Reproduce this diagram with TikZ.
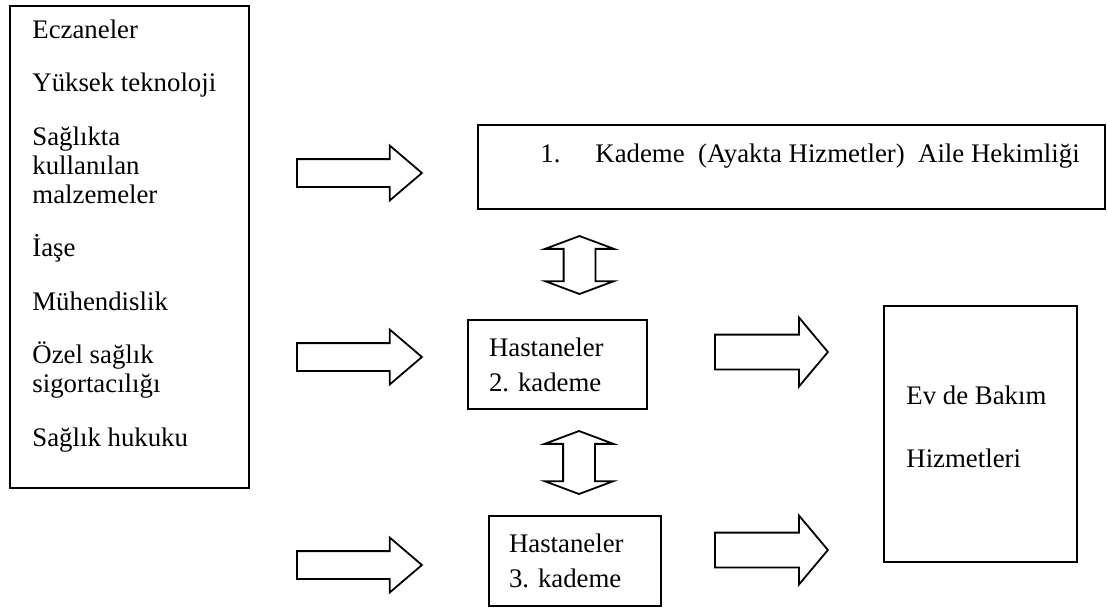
\documentclass[tikz,border=0pt]{standalone}
\usepackage{fontspec}
\setmainfont{Liberation Serif}
\frenchspacing
\usetikzlibrary{shapes.arrows}
\tikzset{
  box/.style={draw=black,line width=0.9pt,fill=white,inner sep=0pt},
  txt/.style={inner sep=0pt,align=left,font=\fontsize{13.4}{14.5}\selectfont},
  hospbox/.style={box,align=left,font=\fontsize{13.4}{17.5}\selectfont},
  blockarrow/.style={draw=black,line width=0.9pt,fill=white,inner xsep=0pt,minimum width=0pt},
  inarrow/.style={blockarrow,single arrow,anchor=tail,inner ysep=6.5pt,single arrow head extend=6.75pt,single arrow tip angle=81,minimum height=62.5pt},
  outarrow/.style={blockarrow,single arrow,anchor=tail,inner ysep=8.25pt,single arrow head extend=8.5pt,single arrow tip angle=100,minimum height=56.5pt},
  linkarrow/.style={blockarrow,double arrow,rotate=90,inner ysep=7.5pt,double arrow head extend=9.25pt,double arrow tip angle=139}
}
\begin{document}
\begin{tikzpicture}[x=0.5pt,y=-0.5pt]
  \useasboundingbox (0,0) rectangle (1107,607);
  % sector list
  \node[box,minimum width=119.5pt,minimum height=241pt] (sources) at (129.5,247) {};
  \node[txt,anchor=north west] (sourcelist) at (32,19) {Eczaneler\\[12.25pt]Yüksek teknoloji\\[12.25pt]Sağlıkta\\kullanılan\\malzemeler\\[12.25pt]İaşe\\[12.25pt]Mühendislik\\[12.25pt]Özel sağlık\\sigortacılığı\\[12.25pt]Sağlık hukuku};
  % levels
  \node[box,minimum width=313.5pt,minimum height=42pt] (level1) at (791.5,167) {};
  \node[txt,anchor=base west] (level1text) at (540,162) {\makebox[27.5pt][l]{1.}Kademe\ \ (Ayakta Hizmetler)\ \ Aile Hekimliği};
  \node[hospbox,minimum width=89.5pt,minimum height=44.5pt,inner xsep=10.5pt,text width=68.5pt] (level2) at (557.5,364.5) {Hastaneler\\2. kademe};
  \node[hospbox,minimum width=86pt,minimum height=45pt,inner xsep=10pt,text width=66pt] (level3) at (575,561) {Hastaneler\\3. kademe};
  \node[box,minimum width=96.5pt,minimum height=128pt] (homecare) at (980.5,434) {};
  \node[txt,anchor=north west,font=\fontsize{13.4}{31.5}\selectfont] (homecaretext) at (906,385) {Ev de Bakım\\Hizmetleri};
  % block arrows
  \node[inarrow] (in1) at (296,173) {};
  \node[inarrow] (in2) at (296,357) {};
  \node[inarrow] (in3) at (296,565) {};
  \node[outarrow] (out2) at (714,352) {};
  \node[outarrow] (out3) at (714,550) {};
  \node[linkarrow,minimum height=29pt] (link12) at (579.5,265) {};
  \node[linkarrow,minimum height=31.5pt] (link23) at (579,462.5) {};
\end{tikzpicture}
\end{document}
